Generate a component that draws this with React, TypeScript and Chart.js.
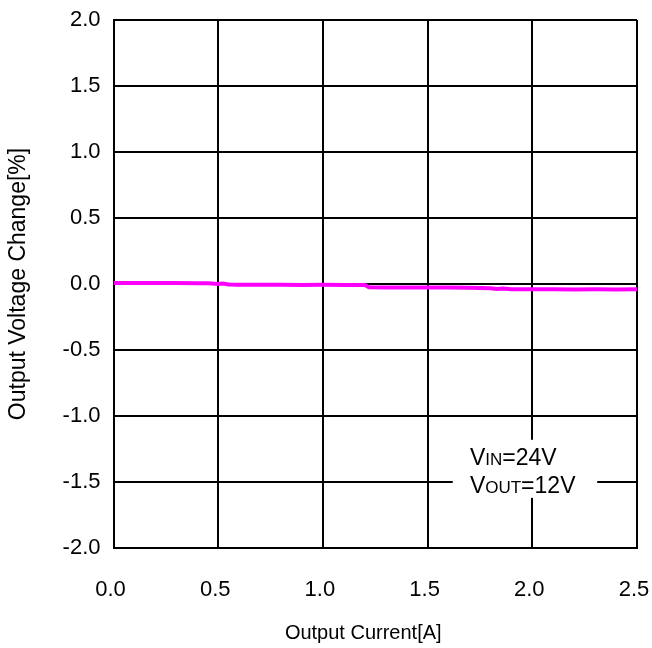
import React, { useEffect, useRef } from "react";
import { Chart, registerables } from "chart.js";

Chart.register(...registerables);

const currentA = [0, 0.1, 0.2, 0.3, 0.4, 0.45, 0.5, 0.52, 0.55, 0.6, 0.7, 0.8, 0.9, 1.0, 1.1, 1.2, 1.22, 1.3, 1.4, 1.5, 1.6, 1.7, 1.8, 1.83, 1.86, 1.9, 2.0, 2.1, 2.2, 2.3, 2.4, 2.5];
const voltageChange = [0.008, 0.008, 0.007, 0.008, 0.006, 0.006, 0.0, 0.004, -0.004, -0.006, -0.005, -0.006, -0.007, -0.006, -0.007, -0.008, -0.025, -0.026, -0.026, -0.027, -0.027, -0.028, -0.032, -0.038, -0.034, -0.039, -0.040, -0.040, -0.041, -0.040, -0.041, -0.040];
const xTicks = [0, 0.5, 1.0, 1.5, 2.0, 2.5];
const yTicks = [-2.0, -1.5, -1.0, -0.5, 0.0, 0.5, 1.0, 1.5, 2.0];
const xTitle = "Output Current[A]";
const yTitle = "Output Voltage Change[%]";
const noteLines = [
  { big: "V", small: "IN", rest: "=24V" },
  { big: "V", small: "OUT", rest: "=12V" },
];

const FONT = "'Liberation Sans', Arial, sans-serif";

const notePlugin = {
  id: "note",
  afterDatasetsDraw(chart: any) {
    const { ctx, scales } = chart;
    const xs = scales.x;
    const ys = scales.y;
    const x0 = xs.getPixelForValue(1.62);
    const x1 = xs.getPixelForValue(2.31);
    const y0 = ys.getPixelForValue(-1.18);
    const y1 = ys.getPixelForValue(-1.62);
    ctx.save();
    ctx.fillStyle = "#ffffff";
    ctx.fillRect(x0, y0, x1 - x0, y1 - y0);
    ctx.fillStyle = "#000000";
    ctx.textBaseline = "alphabetic";
    ctx.textAlign = "left";
    const tx = xs.getPixelForValue(1.702);
    const baselines = [ys.getPixelForValue(-1.369), ys.getPixelForValue(-1.581)];
    noteLines.forEach((ln, i) => {
      let x = tx;
      const y = baselines[i];
      ctx.font = `23px ${FONT}`;
      ctx.fillText(ln.big, x, y);
      x += ctx.measureText(ln.big).width;
      ctx.font = `17px ${FONT}`;
      ctx.fillText(ln.small, x, y);
      x += ctx.measureText(ln.small).width;
      ctx.font = `23px ${FONT}`;
      ctx.fillText(ln.rest, x, y);
    });
    // x-axis title (offset slightly left of the plot centre, as in the source)
    ctx.font = `20px ${FONT}`;
    ctx.textAlign = "center";
    ctx.textBaseline = "middle";
    ctx.fillText(xTitle, (xs.left + xs.right) / 2 - 12, chart.height - 15);
    ctx.restore();
  },
};

export default function App() {
  const ref = useRef<HTMLCanvasElement>(null);
  useEffect(() => {
    const chart = new Chart(ref.current!, {
      type: "line",
      data: {
        datasets: [
          {
            data: currentA.map((x, i) => ({ x, y: voltageChange[i] })),
            borderColor: "#ff00ff",
            backgroundColor: "#ff00ff",
            borderWidth: 4,
            pointRadius: 0,
            tension: 0,
          },
        ],
      },
      options: {
        animation: false,
        responsive: false,
        layout: { padding: { left: 0, right: 15, top: 20, bottom: 0 } },
        plugins: { legend: { display: false }, tooltip: { enabled: false } },
        scales: {
          x: {
            type: "linear",
            min: 0,
            max: 2.5,
            afterBuildTicks: (s: any) => {
              s.ticks = xTicks.map((v) => ({ value: v }));
            },
            afterFit: (s: any) => {
              s.height = 100;
              s.paddingLeft = 0;
              s.paddingRight = 0;
              s.paddingTop = 0;
              s.paddingBottom = 0;
            },
            ticks: {
              color: "#000",
              font: { family: FONT, size: 22 },
              padding: 29,
              labelOffset: -3,
              maxRotation: 0,
              callback: (v: any) => Number(v).toFixed(1),
            },
            grid: { color: "#000", lineWidth: 2, drawTicks: false },
            border: { color: "#000", width: 2 },
            title: { display: false },
          },
          y: {
            type: "linear",
            min: -2,
            max: 2,
            afterBuildTicks: (s: any) => {
              s.ticks = yTicks.map((v) => ({ value: v }));
            },
            afterFit: (s: any) => {
              s.width = 113.5;
              s.paddingLeft = 0;
              s.paddingRight = 0;
              s.paddingTop = 0;
              s.paddingBottom = 0;
            },
            ticks: {
              color: "#000",
              font: { family: FONT, size: 22 },
              padding: 13,
              callback: (v: any) => Number(v).toFixed(1),
            },
            grid: { color: "#000", lineWidth: 2, drawTicks: false },
            border: { color: "#000", width: 2 },
            title: {
              display: true,
              text: yTitle,
              color: "#000",
              font: { family: FONT, size: 23 },
              padding: { top: 5, bottom: 0 },
            },
          },
        },
      },
      plugins: [notePlugin],
    });
    return () => chart.destroy();
  }, []);
  return (
    <div style={{ position: "fixed", left: 0, top: 0, width: 652, height: 648, background: "#fff" }}>
      <canvas ref={ref} width={652} height={648} style={{ display: "block" }} />
    </div>
  );
}
